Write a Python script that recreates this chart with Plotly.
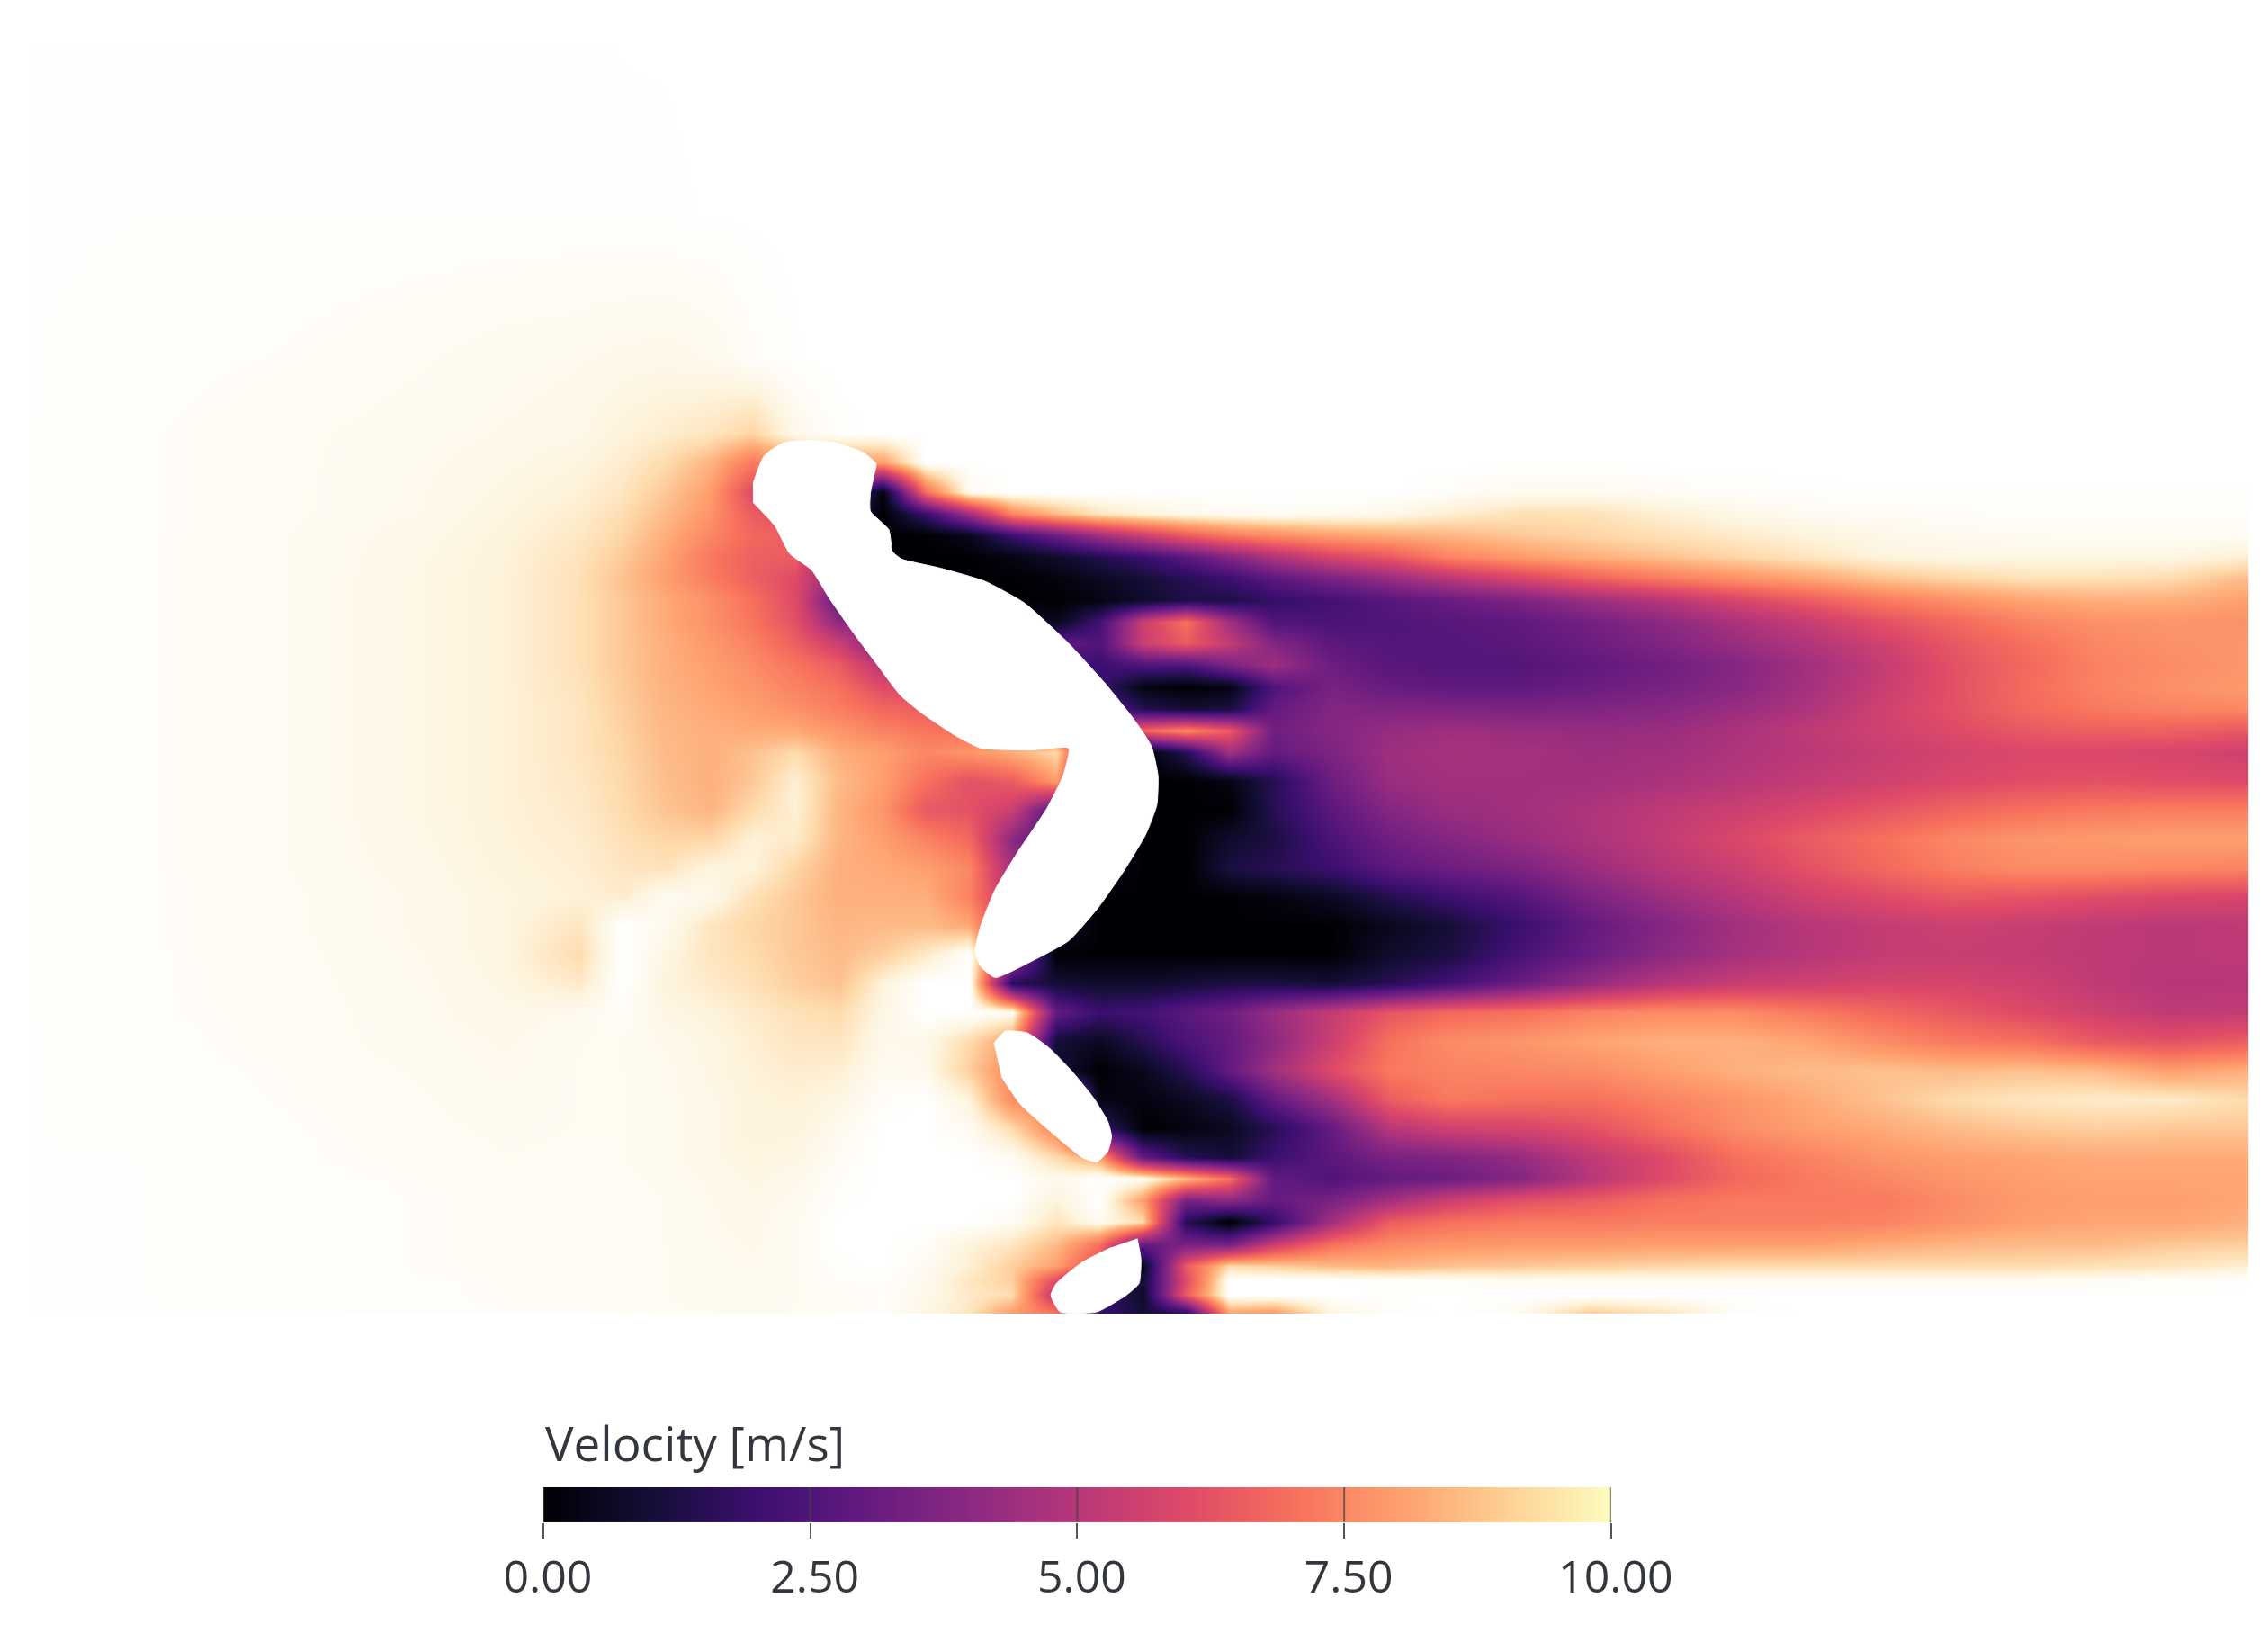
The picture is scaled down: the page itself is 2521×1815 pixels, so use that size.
import plotly.graph_objects as go

# field samples, positions are in picture units (1568 x 1129)
x_cells = [24, 100, 200, 300, 350, 400,
           430, 460, 490, 520, 550, 580,
           610, 640, 670, 700, 730, 760,
           790, 820, 850, 880, 920, 960,
           1000, 1050, 1100, 1150, 1200, 1250,
           1300, 1350, 1400, 1450, 1500, 1553]
y_cells = [32, 150, 250, 300, 320, 340, 355, 370, 385, 400,
           415, 430, 445, 460, 475, 490, 505, 520, 540, 560,
           580, 600, 620, 640, 660, 680, 700, 720, 740, 760,
           780, 800, 815, 830, 845, 860, 875, 885, 895, 907]

velocity = [
    [9.97, 9.97, 9.97, 9.97, 9.97, 9.97, 9.98, 9.98, 9.99, 9.99, 10, 10, 10, 10, 10, 10, 10, 10, 10, 10, 10, 10, 10, 10, 10, 10, 10, 10, 10, 10, 10, 10, 10, 10, 10, 10],
    [9.96, 9.95, 9.95, 9.95, 9.95, 9.95, 9.96, 9.97, 9.98, 9.99, 10, 10, 10, 10, 10, 10, 10, 10, 10, 10, 10, 10, 10, 10, 10, 10, 10, 10, 10, 10, 10, 10, 10, 10, 10, 10],
    [9.95, 9.92, 9.88, 9.8, 9.75, 9.72, 9.68, 9.66, 9.72, 9.88, 9.97, 10, 10, 10, 10, 10, 10, 10, 10, 10, 10, 10, 10, 10, 10, 10, 10, 10, 10, 10, 10, 10, 10, 10, 10, 10],
    [9.95, 9.9, 9.82, 9.75, 9.7, 9.65, 9.5, 9.35, 9.2, 8.9, 9.7, 9.95, 10, 10, 10, 10, 10, 10, 10, 10, 10, 10, 10, 10, 10, 10, 10, 10, 10, 10, 10, 10, 10, 10, 10, 10],
    [9.95, 9.9, 9.82, 9.72, 9.65, 9.55, 9.35, 9.0, 8.4, 7.2, 8, 8, 8, 10, 10, 10, 10, 10, 10, 10, 10, 10, 10, 10, 10, 10, 10, 10, 10, 10, 10, 10, 10, 10, 10, 10],
    [9.95, 9.9, 9.82, 9.7, 9.6, 9.45, 9.2, 8.7, 8.0, 6.0, 6, 3, 0.3, 7, 9.8, 10, 10, 10, 10, 10, 10, 10, 10, 10, 9.9, 9.75, 9.75, 9.85, 9.92, 9.96, 9.97, 9.97, 9.97, 9.97, 9.97, 9.97],
    [9.95, 9.9, 9.82, 9.7, 9.55, 9.35, 9.05, 8.5, 7.8, 6.5, 6, 2, 0, 2, 4.5, 7.5, 8.5, 9.2, 9.5, 9.7, 9.8, 9.85, 9.8, 9.7, 9.4, 9.1, 9.1, 9.4, 9.65, 9.8, 9.85, 9.9, 9.92, 9.92, 9.92, 9.92],
    [9.95, 9.9, 9.8, 9.65, 9.5, 9.25, 8.9, 8.3, 7.5, 6.8, 6.5, 2, 0, 0, 0.5, 2, 3.2, 4.5, 5.5, 6.5, 7.2, 7.6, 8, 8.2, 8.4, 8.7, 8.9, 9.1, 9.3, 9.5, 9.65, 9.75, 9.82, 9.85, 9.85, 9.85],
    [9.95, 9.9, 9.8, 9.62, 9.47, 9.15, 8.75, 8.1, 7.2, 6.6, 6.5, 3, 0, 0, 0, 0.3, 0.8, 1.4, 2, 2.8, 3.8, 4.8, 5.8, 6.4, 7.4, 7.9, 8.3, 8.6, 8.9, 9.2, 9.5, 9.6, 9.6, 9.6, 9.6, 9.4],
    [9.95, 9.9, 9.8, 9.6, 9.45, 9.1, 8.6, 8.0, 7.3, 6.6, 6.0, 4, 2, 0, 0, 0, 0.2, 0.6, 1, 1.5, 2, 2.8, 3.5, 4.2, 5, 5.8, 6.6, 7.2, 7.7, 8.1, 8.6, 8.9, 9.1, 9.1, 9.0, 8.5],
    [9.95, 9.9, 9.8, 9.6, 9.45, 9.1, 8.7, 8.2, 7.7, 7, 6, 3, 3, 2, 1, 0, 0, 0.3, 0.8, 1.3, 1.3, 1.8, 2.2, 2.7, 3.1, 3.6, 4.4, 5, 5.8, 6.5, 7.2, 7.7, 8.1, 8.3, 8.3, 8.0],
    [9.95, 9.9, 9.8, 9.6, 9.45, 9.1, 8.7, 8.2, 7.7, 7.1, 6.2, 4, 4, 3, 2, 1, 0.5, 2.2, 5.5, 7, 4.5, 2.5, 2.4, 2.5, 2.7, 2.9, 3.4, 4, 4.7, 5.4, 6.2, 6.8, 7.4, 7.7, 7.8, 7.7],
    [9.95, 9.9, 9.8, 9.6, 9.45, 9.1, 8.7, 8.3, 7.9, 7.4, 6.6, 5.5, 3.5, 3.5, 3, 3, 3, 2.5, 5.5, 6.5, 5.3, 3.8, 2.8, 2.6, 2.6, 2.8, 3.2, 3.7, 4.3, 4.9, 5.6, 6.4, 7, 7.5, 7.7, 7.8],
    [9.95, 9.9, 9.8, 9.6, 9.45, 9.1, 8.7, 8.3, 8.0, 7.6, 7.1, 6.5, 5, 5, 4, 3, 2, 2, 2.5, 2.5, 3.6, 4.4, 3.2, 2.7, 2.6, 2.6, 2.9, 3.3, 3.8, 4.5, 5.3, 6.2, 6.8, 7.4, 7.6, 7.8],
    [9.95, 9.9, 9.8, 9.6, 9.45, 9.15, 8.75, 8.35, 8.1, 7.8, 7.4, 7, 6, 6, 5, 4, 3, 2, 0.3, 0, 0.3, 2.5, 3.5, 3.1, 2.9, 2.9, 3.2, 3.5, 3.9, 4.6, 5.4, 6.2, 6.9, 7.4, 7.7, 7.9],
    [9.95, 9.9, 9.8, 9.6, 9.45, 9.2, 8.8, 8.4, 8.2, 8.0, 7.7, 7.3, 6.8, 6.5, 6, 5, 4, 3, 1.5, 1, 1.2, 3.0, 3.8, 3.7, 3.7, 3.6, 3.7, 3.9, 4.3, 4.8, 5.6, 6.2, 6.8, 7.2, 7.4, 7.5],
    [9.95, 9.9, 9.8, 9.6, 9.45, 9.2, 8.85, 8.45, 8.3, 8.2, 8.2, 7.8, 7.4, 7.1, 7, 7, 6, 5, 6.8, 7.6, 6.5, 3.3, 3.8, 4.2, 4.4, 4.3, 4.2, 4.3, 4.7, 5.2, 5.6, 6, 6.4, 6.6, 6.6, 6.4],
    [9.95, 9.9, 9.8, 9.6, 9.45, 9.2, 8.9, 8.5, 8.3, 8.6, 9.0, 8.3, 8, 7.5, 7.8, 8.3, 9, 3, 0, 1.5, 4.5, 3, 3.6, 4.4, 4.6, 4.6, 4.4, 4.5, 4.8, 5.1, 5.4, 5.7, 5.9, 5.9, 5.8, 5.6],
    [9.95, 9.9, 9.8, 9.6, 9.45, 9.25, 8.95, 8.55, 8.3, 8.7, 9.4, 8.5, 8.0, 7.0, 6.2, 6.5, 8, 2, 0, 0, 0.3, 1.5, 3.2, 4.3, 4.5, 4.5, 4.5, 4.7, 5, 5.3, 5.6, 5.9, 6.1, 6.2, 6.1, 6],
    [9.95, 9.9, 9.8, 9.6, 9.45, 9.3, 9.0, 8.65, 8.4, 9.0, 9.45, 8.4, 7.8, 6.4, 6.2, 5.5, 2.5, 1, 0, 0, 0, 1.5, 2.8, 3.8, 4.3, 4.5, 4.8, 5.2, 5.5, 5.9, 6.3, 6.7, 7, 7.2, 7.3, 7.3],
    [9.95, 9.9, 9.8, 9.62, 9.47, 9.35, 9.1, 8.9, 8.9, 9.45, 9.3, 8.4, 8.0, 7.4, 6.8, 4, 2, 1, 0, 0, 0.8, 1.2, 2.4, 3.3, 3.8, 4.3, 4.8, 5.3, 5.9, 6.5, 7, 7.5, 7.8, 7.9, 8, 8],
    [9.95, 9.9, 9.8, 9.65, 9.5, 9.4, 9.2, 9.15, 9.55, 9.5, 8.9, 8.3, 8.2, 8.0, 7.5, 4.5, 2, 0.5, 0, 0, 1.2, 1.5, 2, 2.8, 3.2, 3.6, 4.3, 5, 5.5, 6.2, 6.8, 7.3, 7.6, 7.6, 7.5, 7.4],
    [9.95, 9.9, 9.82, 9.68, 9.55, 9.45, 9.35, 9.8, 9.7, 9.1, 8.7, 8.3, 8.3, 8.3, 7.4, 5, 2, 0, 0, 0, 0, 0.2, 0.6, 1.4, 2, 2.6, 3.6, 4.4, 5, 5.6, 6, 6.4, 6.3, 6.1, 5.9, 5.8],
    [9.95, 9.9, 9.82, 9.68, 9.55, 9.2, 10, 9.75, 9.2, 8.9, 8.7, 8.4, 8.5, 8.5, 8.2, 5, 1, 0, 0, 0, 0, 0, 0, 0.5, 1, 2, 3, 3.8, 4.5, 5, 5.3, 5.5, 5.4, 5.2, 5.1, 5.2],
    [9.95, 9.9, 9.83, 9.7, 9.55, 9.0, 10, 9.6, 9.2, 9, 8.7, 8.5, 8.8, 9.3, 10, 5, 0, 0, 0, 0, 0, 0, 0, 0.8, 1.2, 2.3, 3.2, 4, 4.6, 5, 5.3, 5.4, 5.3, 5.2, 5.1, 5.2],
    [9.95, 9.9, 9.84, 9.72, 9.6, 9.3, 10, 9.5, 9.3, 9.1, 8.8, 8.6, 9.5, 10, 10, 1.5, 1, 0.8, 0.8, 1, 1.2, 1.2, 1, 1.5, 2.2, 3.2, 4.2, 5, 5.4, 5.6, 5.8, 5.8, 5.6, 5.2, 5, 5],
    [9.95, 9.9, 9.85, 9.73, 9.65, 9.75, 9.9, 9.6, 9.5, 9.3, 9.1, 9.0, 9.6, 10, 10, 9.8, 3, 2, 2.2, 2.8, 3.3, 4.3, 5.3, 6.3, 6.8, 7, 7.4, 7.6, 7.6, 7.2, 6.8, 6.4, 6, 5.6, 5.2, 5.3],
    [9.95, 9.92, 9.85, 9.75, 9.7, 9.8, 9.8, 9.7, 9.6, 9.4, 9.2, 9.2, 9.7, 9.7, 9, 8, 1, 0.6, 1.5, 2.4, 3, 4, 5.5, 7, 7.6, 7.8, 8.1, 8.3, 8.3, 8.1, 7.6, 7.2, 7, 6.4, 6.2, 6.5],
    [9.95, 9.93, 9.87, 9.78, 9.72, 9.8, 9.8, 9.75, 9.6, 9.45, 9.35, 9.4, 9.8, 9.7, 8.8, 7.5, 1, 0, 0.5, 1.5, 3, 4.5, 6, 7.2, 7.4, 7.5, 7.6, 8, 8.3, 8.5, 8.6, 8.5, 8.6, 8.5, 8, 8.3],
    [9.95, 9.94, 9.88, 9.8, 9.75, 9.8, 9.8, 9.75, 9.65, 9.5, 9.45, 9.6, 9.9, 10, 9.5, 7.6, 7.5, 0.3, 0.2, 0.6, 1.2, 3, 4.5, 6.5, 7.2, 7, 7, 7.4, 7.8, 8.2, 8.6, 9, 9.2, 9.3, 9.3, 9],
    [9.95, 9.94, 9.9, 9.82, 9.78, 9.8, 9.8, 9.75, 9.65, 9.5, 9.5, 9.75, 10, 10, 9.8, 9, 7.4, 2, 0, 0.2, 0.6, 1.5, 3, 5, 5.6, 5.8, 6.2, 7, 7.6, 8, 8.2, 8.5, 8.7, 8.8, 8.7, 8.7],
    [9.95, 9.95, 9.9, 9.85, 9.8, 9.82, 9.8, 9.75, 9.65, 9.55, 9.6, 9.85, 10, 10, 10, 9.8, 9, 8, 3, 1.5, 1, 2, 2.8, 3.5, 3.7, 4.2, 5.2, 6, 7, 7.4, 7.8, 8, 8.1, 8.2, 8.2, 8.2],
    [9.95, 9.95, 9.92, 9.87, 9.85, 9.85, 9.82, 9.78, 9.7, 9.6, 9.7, 9.9, 10, 10, 10, 10, 9.7, 10, 9.8, 8.5, 7, 3, 2.5, 3, 3.2, 3.8, 5, 6, 6.8, 7.2, 7.5, 7.8, 8, 8.1, 8.1, 8.1],
    [9.95, 9.95, 9.92, 9.88, 9.85, 9.85, 9.83, 9.8, 9.72, 9.65, 9.75, 9.95, 10, 10, 10, 10, 9.5, 10, 8, 3.5, 4, 3, 3.5, 4.5, 5.5, 6.2, 6.5, 7, 7.2, 7.2, 7.2, 7.6, 7.9, 8, 8, 8.1],
    [9.95, 9.95, 9.92, 9.88, 9.85, 9.85, 9.83, 9.8, 9.72, 9.68, 9.8, 10, 10, 10, 10, 9.8, 9.2, 9.8, 9, 1.5, 0, 1.8, 4.5, 6.5, 7, 7.2, 7.2, 7.3, 7.3, 7.3, 7.4, 7.7, 8, 8.1, 8.1, 8.3],
    [9.95, 9.95, 9.92, 9.88, 9.85, 9.85, 9.83, 9.8, 9.75, 9.7, 9.8, 10, 10, 9.9, 9.5, 9.2, 8.5, 7, 3, 3.5, 3.5, 5.5, 7, 7.6, 7.8, 7.9, 7.9, 8, 8, 8, 8.2, 8.4, 8.5, 8.5, 8.7, 8.8],
    [9.95, 9.95, 9.92, 9.88, 9.85, 9.85, 9.84, 9.8, 9.75, 9.72, 9.8, 9.95, 10, 9.8, 9.4, 8.8, 8, 6, 0.5, 6.5, 9, 8.8, 8.5, 8.4, 8.6, 8.7, 8.8, 8.9, 9.0, 9.0, 9.0, 9.0, 9.0, 9.1, 9.2, 9.4],
    [9.95, 9.95, 9.93, 9.9, 9.87, 9.85, 9.84, 9.8, 9.77, 9.75, 9.8, 9.9, 9.95, 9.7, 9.2, 8.8, 6, 3, 1, 6, 10, 10, 10, 9.9, 9.9, 9.8, 9.8, 9.8, 9.8, 9.8, 9.8, 9.8, 9.8, 9.85, 9.9, 9.95],
    [9.95, 9.95, 9.93, 9.9, 9.87, 9.85, 9.84, 9.8, 9.77, 9.75, 9.8, 9.85, 9.9, 9.7, 9.3, 9, 5, 2, 0.8, 6.5, 10, 10, 10, 10, 10, 10, 10, 10, 10, 10, 10, 10, 10, 10, 10, 10],
    [9.95, 9.95, 9.94, 9.92, 9.9, 9.88, 9.85, 9.82, 9.8, 9.78, 9.8, 9.85, 9.9, 9.6, 9.2, 8, 7, 2, 1, 2, 8.2, 8, 9.6, 9.9, 10, 9.8, 8.8, 9.2, 9.9, 10, 10, 10, 10, 10, 10, 10],
]

# solid bodies, outlines
body_main_x = [520.6, 528.2, 540.9, 561.2, 579, 596.8, 605.7, 604.4, 601.8, 601.8, 614.5, 617.1, 623.4, 650.1, 680.5, 708.4,
               738.9, 764.3, 784.6, 796, 800.6, 799.8, 792.2, 777, 759.2, 738.9, 713.5, 688.1, 678, 674.2, 678, 688.1,
               703.4, 723.7, 735.1, 738.9, 713.5, 678, 660.2, 637.4, 622.2, 606.9, 591.7, 573.9, 561.2, 546, 535.9, 520.6]
body_main_y = [334.5, 315.4, 306.5, 304.5, 306.5, 312.9, 320.5, 328.1, 340.8, 353.5, 366.2, 381.4, 386.5, 392.8, 401.7, 417,
               444.9, 472.8, 498.2, 515.9, 536.2, 556.5, 576.8, 602.2, 627.6, 650.4, 664.4, 675.8, 668.2, 658, 640.3, 614.9,
               589.5, 559.1, 536.2, 517.2, 518.5, 517.2, 508.3, 493.1, 480.4, 460.1, 439.8, 414.4, 394.1, 382.7, 363.7, 347.2]
body_mid_x = [687.2, 694.9, 710.1, 725.3, 740.5, 755.8, 765.9, 768.5, 765.9, 758.3, 748.2, 725.3, 705, 692.3]
body_mid_y = [721.4, 713.1, 714.1, 724.5, 740, 758.7, 775.3, 785.7, 796, 803.3, 800.2, 781.5, 762.9, 744.2]
body_low_x = [786.2, 788.8, 787.5, 778.6, 758.3, 733, 726.6, 730.4, 748.2, 768.5]
body_low_y = [856.2, 870.7, 887.3, 895.5, 907, 907, 895.5, 887.3, 872.7, 862.4]

# legend bar
bar_values = [0, 1, 2, 3, 4, 5, 6, 7, 8, 9, 10]
tick_values = [0, 2.5, 5, 7.5, 10]
tick_labels = ["0.00", "2.50", "5.00", "7.50", "10.00"]

magma = ["#000004", "#140e36", "#3b0f70", "#641a80", "#8c2981", "#b73779",
         "#de4968", "#f7705c", "#fe9f6d", "#fecf92", "#fcfdbf"]
# field colours run out to white instead of the pale yellow of the bar
field_stops = [[0, "#000004"], [0.1, "#140e36"], [0.2, "#3b0f70"], [0.3, "#641a80"],
               [0.4, "#8c2981"], [0.5, "#b73779"], [0.6, "#de4968"], [0.7, "#f7705c"],
               [0.8, "#fe9f6d"], [0.85, "#fdbb88"], [0.9, "#fedcae"], [0.95, "#fef4dd"], [1, "#ffffff"]]


def scale(colors):
    return [[i / (len(colors) - 1), c] for i, c in enumerate(colors)]


fig = go.Figure()

# the repeated first and last lines stop the field at its real edge
fig.add_trace(go.Heatmap(
    x=[23] + x_cells + [1554],
    y=[31] + y_cells + [908],
    z=[[r[0]] + r + [r[-1]] for r in [velocity[0]] + velocity + [velocity[-1]]],
    zmin=0, zmax=10, colorscale=field_stops,
    zsmooth="best", showscale=False, hoverinfo="skip",
))

for bx, by in [(body_main_x, body_main_y), (body_mid_x, body_mid_y), (body_low_x, body_low_y)]:
    fig.add_trace(go.Scatter(
        x=bx, y=by, mode="lines", fill="toself", fillcolor="white",
        line=dict(color="white", width=1, shape="spline", smoothing=0.5),
        showlegend=False, hoverinfo="skip",
    ))

fig.add_trace(go.Heatmap(
    x=bar_values, y=[0, 1], z=[bar_values, bar_values],
    xaxis="x2", yaxis="y2", zmin=0, zmax=10, colorscale=scale(magma),
    zsmooth="best", showscale=False, hoverinfo="skip",
))

# tick lines run up through the bar
for t in tick_values:
    fig.add_shape(type="line", xref="x2", yref="y2 domain", x0=t, x1=t, y0=0, y1=1,
                  line=dict(color="rgba(70,70,70,0.75)", width=2), layer="above")

tick_font = dict(family="Open Sans", size=50, color="#33373d")
title_font = dict(family="Open Sans", size=53, color="#33373d")

fig.add_annotation(text="Velocity [m/s]", xref="x2", yref="paper", x=0, y=0.1,
                   xanchor="left", yanchor="bottom", showarrow=False, font=title_font)

# the page adds 8 px round the figure, the ranges and domains take that back
fig.update_layout(
    width=2521, height=1815,
    margin=dict(l=0, r=0, t=0, b=0),
    paper_bgcolor="white", plot_bgcolor="white",
    showlegend=False,
    xaxis=dict(domain=[0, 1], range=[5, 1573], visible=False, automargin=False),
    yaxis=dict(domain=[0, 1], range=[1134, 5], visible=False, automargin=False),
    xaxis2=dict(domain=[0.2364, 0.7072], range=[0, 10], anchor="y2", automargin=False,
                tickmode="array", tickvals=tick_values, ticktext=tick_labels,
                ticks="outside", ticklen=17, tickwidth=2, tickcolor="#555555", ticklabelshift=5,
                showgrid=False, zeroline=False, showline=False, tickfont=tick_font),
    yaxis2=dict(domain=[0.0722, 0.0937], range=[0, 1], anchor="x2", visible=False, automargin=False),
)

fig.write_html("out.html")
